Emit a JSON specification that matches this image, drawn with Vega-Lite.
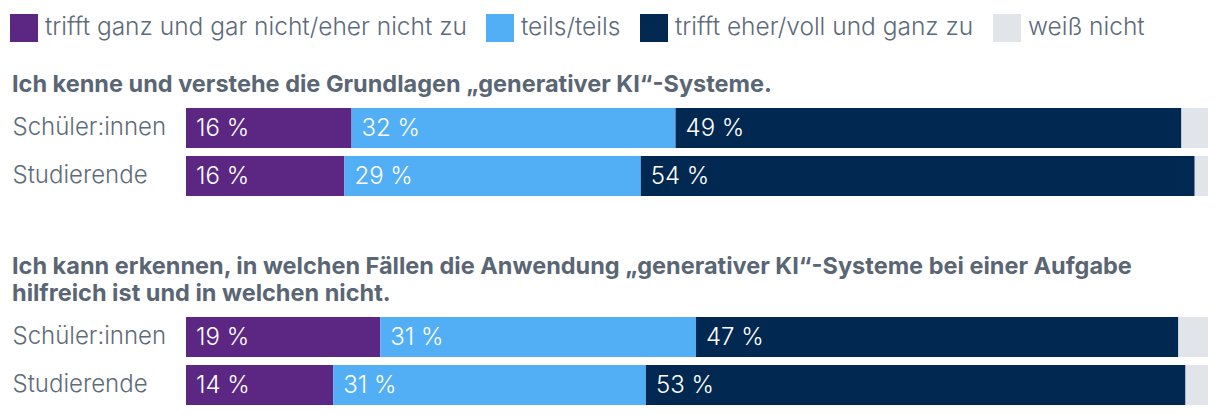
{
  "$schema": "https://vega.github.io/schema/vega-lite/v6.json",
  "background": "white",
  "padding": {"left": 10, "top": 14, "right": 10, "bottom": 8},
  "datasets": {
    "d": [
      {"question": "q1", "group": "Schüler:innen", "category": "trifft ganz und gar nicht/eher nicht zu", "order": 1, "value": 16.2, "label": "16 %"},
      {"question": "q1", "group": "Schüler:innen", "category": "teils/teils", "order": 2, "value": 31.7, "label": "32 %"},
      {"question": "q1", "group": "Schüler:innen", "category": "trifft eher/voll und ganz zu", "order": 3, "value": 49.5, "label": "49 %"},
      {"question": "q1", "group": "Schüler:innen", "category": "weiß nicht", "order": 4, "value": 2.6, "label": ""},
      {"question": "q1", "group": "Studierende", "category": "trifft ganz und gar nicht/eher nicht zu", "order": 1, "value": 15.5, "label": "16 %"},
      {"question": "q1", "group": "Studierende", "category": "teils/teils", "order": 2, "value": 29.0, "label": "29 %"},
      {"question": "q1", "group": "Studierende", "category": "trifft eher/voll und ganz zu", "order": 3, "value": 54.2, "label": "54 %"},
      {"question": "q1", "group": "Studierende", "category": "weiß nicht", "order": 4, "value": 1.3, "label": ""},
      {"question": "q2", "group": "Schüler:innen", "category": "trifft ganz und gar nicht/eher nicht zu", "order": 1, "value": 19.0, "label": "19 %"},
      {"question": "q2", "group": "Schüler:innen", "category": "teils/teils", "order": 2, "value": 30.9, "label": "31 %"},
      {"question": "q2", "group": "Schüler:innen", "category": "trifft eher/voll und ganz zu", "order": 3, "value": 47.2, "label": "47 %"},
      {"question": "q2", "group": "Schüler:innen", "category": "weiß nicht", "order": 4, "value": 2.9, "label": ""},
      {"question": "q2", "group": "Studierende", "category": "trifft ganz und gar nicht/eher nicht zu", "order": 1, "value": 14.4, "label": "14 %"},
      {"question": "q2", "group": "Studierende", "category": "teils/teils", "order": 2, "value": 30.6, "label": "31 %"},
      {"question": "q2", "group": "Studierende", "category": "trifft eher/voll und ganz zu", "order": 3, "value": 52.8, "label": "53 %"},
      {"question": "q2", "group": "Studierende", "category": "weiß nicht", "order": 4, "value": 2.2, "label": ""}
    ]
  },
  "vconcat": [
    {
      "title": {"text": "Ich kenne und verstehe die Grundlagen „generativer KI“-Systeme."},
      "width": 1022,
      "height": 88,
      "data": {"name": "d"},
      "transform": [
        {"filter": "datum.question == 'q1'"},
        {"stack": "value", "groupby": ["question", "group"], "sort": [{"field": "order"}], "as": ["x0", "x1"]}
      ],
      "encoding": {
        "y": {"field": "group", "type": "nominal", "sort": ["Schüler:innen", "Studierende"], "scale": {"paddingInner": 0.1667, "paddingOuter": 0}, "axis": {"title": null, "domain": false, "ticks": false, "labelAlign": "left", "labelPadding": 174, "labelFontSize": 24, "labelFont": "Inter", "labelFontWeight": 300, "labelColor": "#5d6b7a"}}
      },
      "layer": [
        {
          "mark": {"type": "bar"},
          "encoding": {
            "x": {"field": "x0", "type": "quantitative", "scale": {"domain": [0, 100], "nice": false}, "axis": null},
            "x2": {"field": "x1"},
            "color": {"field": "category", "type": "nominal", "sort": ["trifft ganz und gar nicht/eher nicht zu", "teils/teils", "trifft eher/voll und ganz zu", "weiß nicht"], "scale": {"domain": ["trifft ganz und gar nicht/eher nicht zu", "teils/teils", "trifft eher/voll und ganz zu", "weiß nicht"], "range": ["#5c2783", "#52aef5", "#002850", "#e1e4e8"]}, "legend": {"title": null, "orient": "none", "legendX": -176, "legendY": -94, "direction": "horizontal", "symbolType": "square", "symbolSize": 784, "symbolStrokeWidth": 0, "labelFontSize": 24.5, "labelFont": "Inter", "labelFontWeight": 300, "labelColor": "#5d6b7a", "labelOffset": 7, "columnPadding": 19, "labelLimit": 500}}
          }
        },
        {
          "mark": {"type": "text", "align": "left", "baseline": "middle", "dx": 10, "dy": 1, "color": "white", "fontSize": 24, "font": "Inter", "fontWeight": 300},
          "encoding": {
            "x": {"field": "x0", "type": "quantitative"},
            "text": {"field": "label"}
          }
        }
      ]
    },
    {
      "title": {"text": ["Ich kann erkennen, in welchen Fällen die Anwendung „generativer KI“-Systeme bei einer Aufgabe", "hilfreich ist und in welchen nicht."]},
      "width": 1022,
      "height": 88,
      "data": {"name": "d"},
      "transform": [
        {"filter": "datum.question == 'q2'"},
        {"stack": "value", "groupby": ["question", "group"], "sort": [{"field": "order"}], "as": ["x0", "x1"]}
      ],
      "encoding": {
        "y": {"field": "group", "type": "nominal", "sort": ["Schüler:innen", "Studierende"], "scale": {"paddingInner": 0.1667, "paddingOuter": 0}, "axis": {"title": null, "domain": false, "ticks": false, "labelAlign": "left", "labelPadding": 174, "labelFontSize": 24, "labelFont": "Inter", "labelFontWeight": 300, "labelColor": "#5d6b7a"}}
      },
      "layer": [
        {
          "mark": {"type": "bar"},
          "encoding": {
            "x": {"field": "x0", "type": "quantitative", "scale": {"domain": [0, 100], "nice": false}, "axis": null},
            "x2": {"field": "x1"},
            "color": {"field": "category", "type": "nominal", "sort": ["trifft ganz und gar nicht/eher nicht zu", "teils/teils", "trifft eher/voll und ganz zu", "weiß nicht"], "scale": {"domain": ["trifft ganz und gar nicht/eher nicht zu", "teils/teils", "trifft eher/voll und ganz zu", "weiß nicht"], "range": ["#5c2783", "#52aef5", "#002850", "#e1e4e8"]}, "legend": null}
          }
        },
        {
          "mark": {"type": "text", "align": "left", "baseline": "middle", "dx": 10, "dy": 1, "color": "white", "fontSize": 24, "font": "Inter", "fontWeight": 300},
          "encoding": {
            "x": {"field": "x0", "type": "quantitative"},
            "text": {"field": "label"}
          }
        }
      ]
    }
  ],
  "spacing": 58,
  "config": {
    "view": {"stroke": null},
    "title": {"anchor": "start", "font": "Inter", "fontSize": 23.5, "fontWeight": 700, "color": "#5a6674", "offset": 12, "lineHeight": 27, "frame": "bounds"}
  }
}
